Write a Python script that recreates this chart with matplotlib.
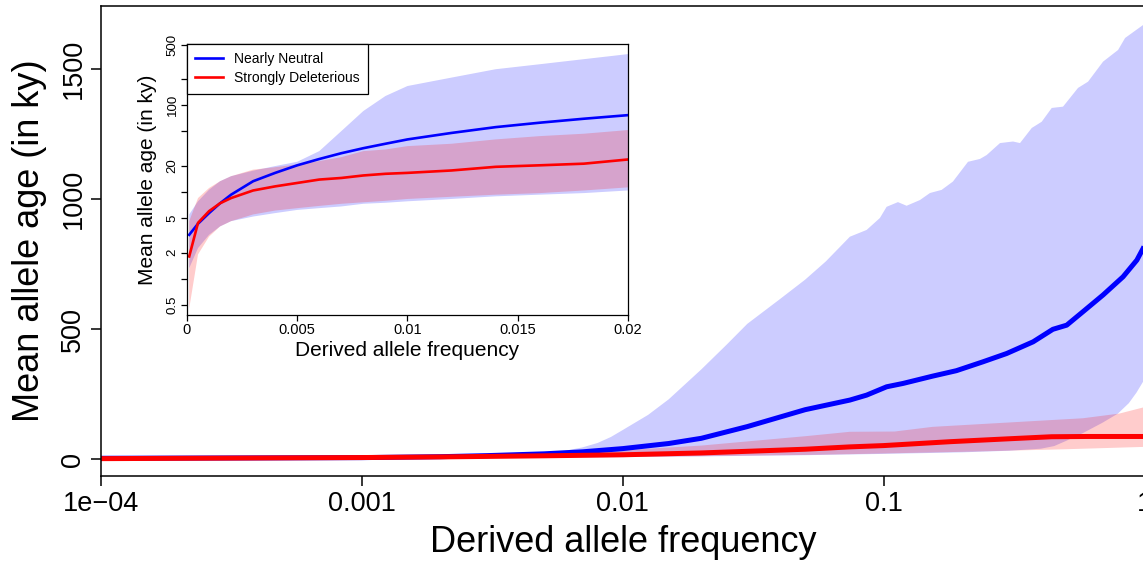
import matplotlib
matplotlib.use('Agg')
import matplotlib.pyplot as plt
from matplotlib.ticker import FixedLocator, NullLocator

# ── Main panel data (derived allele frequency vs mean age, ky) ───────────────
nn_mean_x = [1e-4, 0.001, 0.002, 0.003, 0.005, 0.007, 0.01, 0.015, 0.02, 0.03, 0.05,
             0.0742, 0.086, 0.1026, 0.1187, 0.154, 0.19, 0.24, 0.296, 0.374, 0.445,
             0.503, 0.581, 0.693, 0.827, 0.934, 0.987, 1.0]
nn_mean_y = [3.2, 5.7, 9.3, 13.3, 20.3, 28, 40.4, 60, 80, 125, 190,
             227, 246, 278, 291, 319, 340, 374, 406, 451, 499,
             515, 567, 631, 701, 765, 810, 822]

nn_hi_x = [1e-4, 0.002, 0.003, 0.004, 0.005, 0.006, 0.007, 0.008, 0.009, 0.01, 0.0125,
           0.015, 0.02, 0.025, 0.03, 0.04, 0.05, 0.06, 0.0742, 0.086, 0.0967, 0.1026,
           0.1134, 0.1224, 0.1377, 0.1504, 0.1667, 0.1842, 0.2104, 0.2339, 0.2481,
           0.2791, 0.3131, 0.333, 0.3693, 0.4033, 0.4406, 0.4868, 0.5556, 0.607,
           0.693, 0.7914, 0.8417, 0.9869, 1.0]
nn_hi_y = [5.5, 15, 17.6, 20, 24, 32, 45, 62, 85, 112, 170,
           230, 345, 440, 520, 615, 690, 760, 855, 881, 927, 970,
           988, 974, 996, 1023, 1035, 1067, 1143, 1154, 1169,
           1215, 1221, 1215, 1273, 1297, 1350, 1355, 1427, 1451,
           1528, 1573, 1619, 1669, 1675]

nn_lo_x = [1e-4, 0.001, 0.01, 0.02, 0.05, 0.1, 0.2, 0.3, 0.4, 0.45, 0.5, 0.58, 0.69,
           0.79, 0.87, 0.93, 0.99, 1.0]
nn_lo_y = [1.3, 3.2, 7.8, 10.4, 15, 20, 26, 32, 40, 50, 70, 100, 140,
           175, 215, 255, 300, 310]

sd_mean_x = [1e-4, 0.001, 0.002, 0.005, 0.01, 0.02, 0.03, 0.05, 0.0742, 0.1, 0.18,
             0.3, 0.44, 0.6, 0.8, 1.0]
sd_mean_y = [1.8, 6, 8.5, 12.7, 16.6, 23.7, 30, 38, 47, 52, 67,
             78, 86, 87, 87, 87]

sd_hi_x = [1e-4, 0.001, 0.003, 0.005, 0.01, 0.02, 0.03, 0.05, 0.0742, 0.11, 0.154,
           0.33, 0.58, 0.8, 1.0]
sd_hi_y = [4.6, 11, 18, 21, 34, 52, 68, 88, 105, 106, 124, 143, 157, 175, 200]

sd_lo_x = [1e-4, 0.001, 0.01, 0.02, 0.05, 0.0742, 0.2, 0.5, 1.0]
sd_lo_y = [0.5, 3, 8.3, 11.3, 16, 19, 28, 38, 47]

# ── Inset data (low frequencies, log y) ───────────────────────────────────────
in_x = [0.0001, 0.0005, 0.001, 0.0015, 0.002, 0.003, 0.004, 0.005, 0.006, 0.007,
        0.008, 0.009, 0.010, 0.012, 0.014, 0.016, 0.018, 0.020]
in_nn_mean = [3.2, 4.3, 5.7, 7.4, 9.3, 13.3, 16.6, 20.3, 24, 28,
              32, 36, 40.4, 48, 56, 63, 70, 77]
in_nn_hi = [5.5, 7.8, 10.6, 13.3, 15.2, 17.6, 19.9, 22.3, 29.6, 50.4,
            86, 128, 167, 209, 261, 298, 341, 390]
in_nn_lo = [1.32, 2.25, 3.2, 4.0, 4.6, 5.2, 5.7, 6.2, 6.5, 6.8,
            7.3, 7.5, 7.8, 8.3, 8.9, 9.3, 9.7, 10.4]
in_sd_mean = [1.8, 4.4, 6.0, 7.4, 8.5, 10.4, 11.6, 12.7, 13.9, 14.5,
              15.5, 16.2, 16.6, 17.7, 19.5, 20.3, 21.2, 23.7]
in_sd_hi = [4.6, 8.5, 11.1, 13.3, 15.2, 18.1, 19.3, 20.8, 22.7, 25.2,
            29.6, 30.9, 33.8, 36, 40.4, 44.1, 47, 51.8]
in_sd_lo = [0.45, 1.9, 3.05, 4.0, 4.6, 5.5, 6.1, 6.5, 6.9, 7.3,
            7.6, 7.9, 8.3, 8.8, 9.3, 9.7, 10.4, 11.3]

BLUE = '#0000ff'
RED = '#ff0000'
BLUE_BAND = (0, 0, 1, 0.2)
RED_BAND = (1, 0, 0, 0.2)


def band(axis, lo_x, lo_y, hi_x, hi_y, color):
    # polygon: upper edge left->right, lower edge right->left
    xs = list(hi_x) + list(lo_x)[::-1]
    ys = list(hi_y) + list(lo_y)[::-1]
    axis.fill(xs, ys, color=color, linewidth=0)


plt.rcParams.update({
    'font.family': ['Liberation Sans', 'DejaVu Sans'],
    'axes.linewidth': 1.1,
    'xtick.major.width': 1.1,
    'ytick.major.width': 1.1,
})

fig = plt.figure(figsize=(11.43, 5.65), dpi=100)

# ── Main axes ────────────────────────────────────────────────────────────────
ax = fig.add_axes([0.0884, 0.1575, 0.9130, 0.8319])
ax.set_xscale('log')
ax.set_xlim(1e-4, 1.0)
ax.set_ylim(-65, 1742)

band(ax, nn_lo_x, nn_lo_y, nn_hi_x, nn_hi_y, BLUE_BAND)
band(ax, sd_lo_x, sd_lo_y, sd_hi_x, sd_hi_y, RED_BAND)
ax.plot(nn_mean_x, nn_mean_y, color=BLUE, lw=3.6, solid_capstyle='butt')
ax.plot(sd_mean_x, sd_mean_y, color=RED, lw=3.6, solid_capstyle='butt')

ax.xaxis.set_major_locator(FixedLocator([1e-4, 1e-3, 1e-2, 1e-1, 1]))
ax.xaxis.set_minor_locator(NullLocator())
ax.set_xticklabels(['1e\u221204', '0.001', '0.01', '0.1', '1'], fontsize=19.5)
ax.set_yticks([0, 500, 1000, 1500])
ax.set_yticklabels(['0', '500', '1000', '1500'], fontsize=19.5, rotation=90, va='center')
ax.tick_params(direction='out', length=7.5, pad=3)
ax.set_xlabel('Derived allele frequency', fontsize=26, labelpad=6)
ax.set_ylabel('Mean allele age (in ky)', fontsize=26, labelpad=10)

# ── Inset axes ───────────────────────────────────────────────────────────────
ins = fig.add_axes([0.1636, 0.4425, 0.3858, 0.4796])
ins.set_facecolor('white')
ins.set_yscale('log')
ins.set_xlim(0, 0.02)
ins.set_ylim(0.38, 510)

band(ins, in_x, in_nn_lo, in_x, in_nn_hi, BLUE_BAND)
band(ins, in_x, in_sd_lo, in_x, in_sd_hi, RED_BAND)
ins.plot(in_x, in_nn_mean, color=BLUE, lw=1.9, label='Nearly Neutral')
ins.plot(in_x, in_sd_mean, color=RED, lw=1.9, label='Strongly Deleterious')

ins.set_xticks([0, 0.005, 0.01, 0.015, 0.02])
ins.set_xticklabels(['0', '0.005', '0.01', '0.015', '0.02'], fontsize=10.5)
ins.yaxis.set_major_locator(FixedLocator([0.5, 1, 2, 5, 10, 20, 50, 100, 200, 500]))
ins.yaxis.set_minor_locator(NullLocator())
ins.set_yticklabels(['0.5', '', '2', '5', '', '20', '', '100', '', '500'],
                    fontsize=9.5, rotation=90, va='center')
ins.tick_params(direction='out', length=4, pad=2, width=0.9)
for s in ins.spines.values():
    s.set_linewidth(0.9)
ins.set_xlabel('Derived allele frequency', fontsize=15, labelpad=3)
ins.set_ylabel('Mean allele age (in ky)', fontsize=15, labelpad=7)

leg = ins.legend(loc='upper left', bbox_to_anchor=(0, 1), borderaxespad=0,
                 fontsize=10, fancybox=False, framealpha=1, edgecolor='black',
                 handlelength=2.0, borderpad=0.6, labelspacing=0.35)
leg.get_frame().set_linewidth(0.9)

fig.savefig('out.png', dpi=100)
